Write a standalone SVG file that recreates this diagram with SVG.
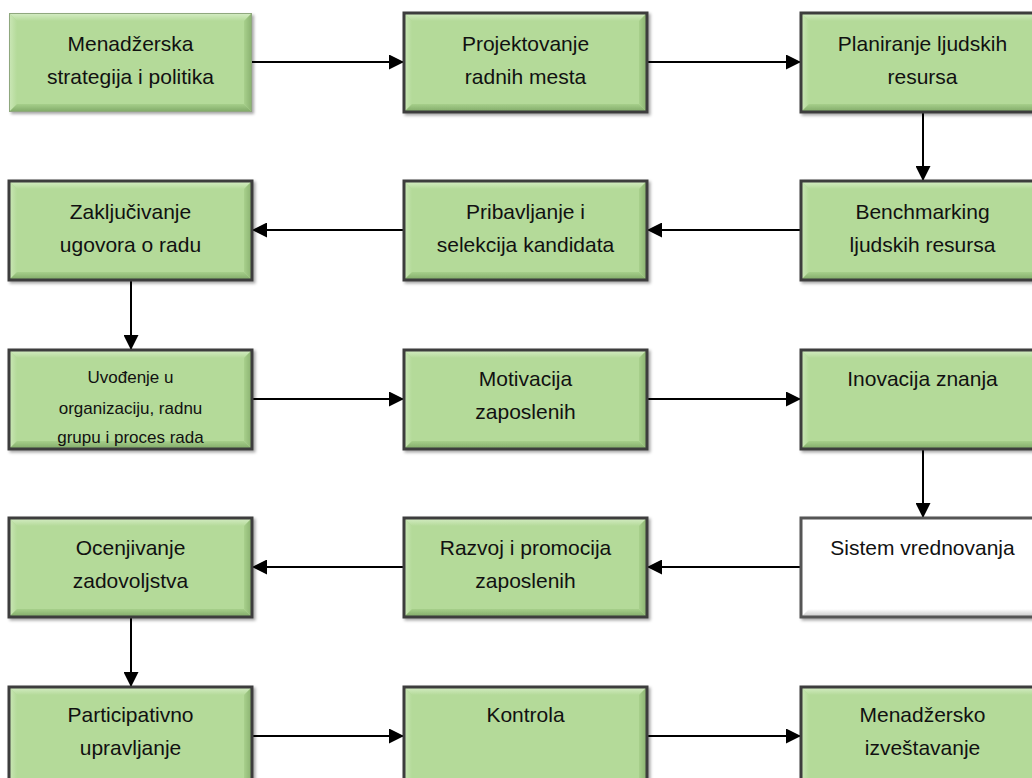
<svg xmlns="http://www.w3.org/2000/svg" xmlns:xlink="http://www.w3.org/1999/xlink" width="1032" height="778" viewBox="0 0 1032 778">
<style>
.t{font-family:"Liberation Sans",Arial,sans-serif;font-size:21px;fill:#111;text-anchor:middle}
.ts{font-size:17px}
.c{stroke:#000;stroke-width:2;fill:none}
</style>
<defs>
<filter id="sh" x="-5%" y="-5%" width="112%" height="115%">
<feDropShadow dx="2" dy="2" stdDeviation="1.5" flood-color="#000" flood-opacity="0.35"/>
</filter>
<linearGradient id="gt" x1="0" y1="0" x2="0" y2="1"><stop offset="0" stop-color="#d6edc6"/><stop offset="1" stop-color="#b4da99"/></linearGradient>
<linearGradient id="gl" x1="0" y1="0" x2="1" y2="0"><stop offset="0" stop-color="#cbe7b7"/><stop offset="1" stop-color="#b4da99"/></linearGradient>
<linearGradient id="gb" x1="0" y1="0" x2="0" y2="1"><stop offset="0" stop-color="#a6cf8a"/><stop offset="1" stop-color="#7fa866"/></linearGradient>
<linearGradient id="gr" x1="0" y1="0" x2="1" y2="0"><stop offset="0" stop-color="#a8d08c"/><stop offset="1" stop-color="#88b06e"/></linearGradient>
<linearGradient id="wb" x1="0" y1="0" x2="0" y2="1"><stop offset="0" stop-color="#ffffff"/><stop offset="1" stop-color="#c4c4c4"/></linearGradient>
<linearGradient id="wr" x1="0" y1="0" x2="1" y2="0"><stop offset="0" stop-color="#ffffff"/><stop offset="1" stop-color="#d6d6d6"/></linearGradient>
<g id="bevel">
<rect x="0" y="0" width="243" height="99" fill="#b4da99"/>
<polygon points="0,0 243,0 235,8 8,8" fill="url(#gt)"/>
<polygon points="0,0 8,8 8,91 0,99" fill="url(#gl)"/>
<polygon points="0,99 8,91 235,91 243,99" fill="url(#gb)"/>
<polygon points="243,0 243,99 235,91 235,8" fill="url(#gr)"/>
</g>
<g id="gbox" filter="url(#sh)">
<use xlink:href="#bevel"/>
<rect x="0" y="0" width="243" height="99" fill="none" stroke="#3c3c3c" stroke-width="3"/>
</g>
<g id="gbox1" filter="url(#sh)">
<use xlink:href="#bevel"/>
<rect x="0.5" y="0.5" width="242" height="98" fill="none" stroke="#8fa87e" stroke-width="1"/>
</g>
<g id="wbox" filter="url(#sh)">
<rect x="0" y="0" width="243" height="99" fill="#fff"/>
<polygon points="0,99 8,91 235,91 243,99" fill="url(#wb)"/>
<polygon points="243,0 243,99 235,91 235,8" fill="url(#wr)"/>
<rect x="0" y="0" width="243" height="99" fill="none" stroke="#555" stroke-width="3"/>
</g>
<marker id="ah" viewBox="0 0 15 15" refX="15" refY="7.5" markerWidth="15" markerHeight="15" markerUnits="userSpaceOnUse" orient="auto">
<path d="M0,0 L15,7.5 L0,15 Z" fill="#000"/>
</marker>
</defs>
<rect width="1032" height="778" fill="#fff"/>

<g id="connectors">
<line class="c" x1="252" y1="62" x2="404" y2="62" marker-end="url(#ah)"/>
<line class="c" x1="647" y1="62" x2="801" y2="62" marker-end="url(#ah)"/>
<line class="c" x1="923" y1="112" x2="923" y2="181" marker-end="url(#ah)"/>
<line class="c" x1="801" y1="230" x2="647" y2="230" marker-end="url(#ah)"/>
<line class="c" x1="404" y1="230" x2="252" y2="230" marker-end="url(#ah)"/>
<line class="c" x1="131" y1="280" x2="131" y2="350" marker-end="url(#ah)"/>
<line class="c" x1="252" y1="399" x2="404" y2="399" marker-end="url(#ah)"/>
<line class="c" x1="647" y1="399" x2="801" y2="399" marker-end="url(#ah)"/>
<line class="c" x1="923" y1="449" x2="923" y2="518" marker-end="url(#ah)"/>
<line class="c" x1="801" y1="567" x2="647" y2="567" marker-end="url(#ah)"/>
<line class="c" x1="404" y1="567" x2="252" y2="567" marker-end="url(#ah)"/>
<line class="c" x1="131" y1="617" x2="131" y2="687" marker-end="url(#ah)"/>
<line class="c" x1="252" y1="736" x2="404" y2="736" marker-end="url(#ah)"/>
<line class="c" x1="647" y1="736" x2="801" y2="736" marker-end="url(#ah)"/>
</g>

<g id="n1" transform="translate(9,13)"><use xlink:href="#gbox1"/>
<text class="t" x="121.5" y="38">Menadžerska</text><text class="t" x="121.5" y="71">strategija i politika</text></g>
<g id="n2" transform="translate(404,13)"><use xlink:href="#gbox"/>
<text class="t" x="121.5" y="38">Projektovanje</text><text class="t" x="121.5" y="71">radnih mesta</text></g>
<g id="n3" transform="translate(801,13)"><use xlink:href="#gbox"/>
<text class="t" x="121.5" y="38">Planiranje ljudskih</text><text class="t" x="121.5" y="71">resursa</text></g>

<g id="n4" transform="translate(801,181)"><use xlink:href="#gbox"/>
<text class="t" x="121.5" y="38">Benchmarking</text><text class="t" x="121.5" y="71">ljudskih resursa</text></g>
<g id="n5" transform="translate(404,181)"><use xlink:href="#gbox"/>
<text class="t" x="121.5" y="38">Pribavljanje i</text><text class="t" x="121.5" y="71">selekcija kandidata</text></g>
<g id="n6" transform="translate(9,181)"><use xlink:href="#gbox"/>
<text class="t" x="121.5" y="38">Zaključivanje</text><text class="t" x="121.5" y="71">ugovora o radu</text></g>

<g id="n7" transform="translate(9,350)"><use xlink:href="#gbox"/>
<text class="t ts" x="121.5" y="33">Uvođenje u</text><text class="t ts" x="121.5" y="64">organizaciju, radnu</text><text class="t ts" x="121.5" y="93">grupu i proces rada</text></g>
<g id="n8" transform="translate(404,350)"><use xlink:href="#gbox"/>
<text class="t" x="121.5" y="36">Motivacija</text><text class="t" x="121.5" y="69">zaposlenih</text></g>
<g id="n9" transform="translate(801,350)"><use xlink:href="#gbox"/>
<text class="t" x="121.5" y="36">Inovacija znanja</text></g>

<g id="n10" transform="translate(801,518)"><use xlink:href="#wbox"/>
<text class="t" x="121.5" y="37">Sistem vrednovanja</text></g>
<g id="n11" transform="translate(404,518)"><use xlink:href="#gbox"/>
<text class="t" x="121.5" y="37">Razvoj i promocija</text><text class="t" x="121.5" y="70">zaposlenih</text></g>
<g id="n12" transform="translate(9,518)"><use xlink:href="#gbox"/>
<text class="t" x="121.5" y="37">Ocenjivanje</text><text class="t" x="121.5" y="70">zadovoljstva</text></g>

<g id="n13" transform="translate(9,687)"><use xlink:href="#gbox"/>
<text class="t" x="121.5" y="35">Participativno</text><text class="t" x="121.5" y="68">upravljanje</text></g>
<g id="n14" transform="translate(404,687)"><use xlink:href="#gbox"/>
<text class="t" x="121.5" y="35">Kontrola</text></g>
<g id="n15" transform="translate(801,687)"><use xlink:href="#gbox"/>
<text class="t" x="121.5" y="35">Menadžersko</text><text class="t" x="121.5" y="68">izveštavanje</text></g>
</svg>
